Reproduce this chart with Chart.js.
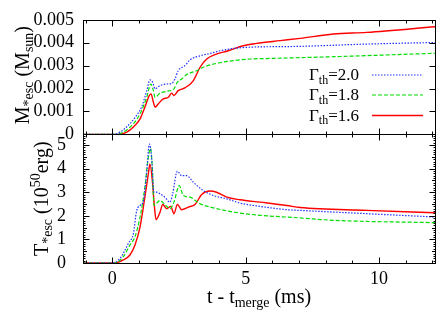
<!DOCTYPE html>
<html>
<head>
<meta charset="utf-8">
<script src="https://cdn.jsdelivr.net/npm/chart.js@4.4.0/dist/chart.umd.min.js"></script>
<style>
body { margin: 0; background: #fff; }
</style>
</head>
<body>
<canvas id="myChart" width="447" height="313"></canvas>
<script>
// legend labels (Gamma_th values)
var gammas = ["2.0", "1.8", "1.6"];

// x tick labels and y tick labels
var xTicks = [0, 5, 10];
var mTicks = [0, 0.001, 0.002, 0.003, 0.004, 0.005];
var tTicks = [0, 1, 2, 3, 4, 5];

// top panel: escaping mass (Msun)
var tM20 = [-1.1, 0, 0.29, 0.66, 0.91, 1.1, 1.29, 1.41, 1.51, 1.6, 1.79, 2.04, 2.22, 2.35, 2.47, 2.72, 2.91, 3.29, 3.66, 4.04, 4.54, 5.04, 7.0, 9.5, 12.1];
var m20 = [0, 0, 0.0001, 0.00047, 0.00083, 0.0012, 0.0019, 0.00238, 0.00228, 0.00199, 0.00213, 0.0022, 0.00222, 0.00242, 0.00278, 0.003, 0.00325, 0.00343, 0.00353, 0.00365, 0.00375, 0.0038, 0.00384, 0.00394, 0.00401];

var tM18 = [-1.1, 0.1, 0.41, 0.79, 1.04, 1.29, 1.44, 1.54, 1.6, 1.79, 2.04, 2.31, 2.44, 2.6, 2.79, 3.16, 3.41, 3.91, 4.54, 5.16, 5.79, 8.29, 12.1];
var m18 = [0, 0, 0.0001, 0.00047, 0.0009, 0.00162, 0.0022, 0.00191, 0.00162, 0.0018, 0.00188, 0.00199, 0.00228, 0.00242, 0.00261, 0.00278, 0.00293, 0.0031, 0.00322, 0.00329, 0.00331, 0.00339, 0.00354];

var tM16 = [-1.1, 0.2, 0.54, 0.79, 1.04, 1.22, 1.39, 1.45, 1.54, 1.6, 1.72, 1.91, 2.1, 2.22, 2.31, 2.47, 2.72, 3.04, 3.29, 3.54, 3.85, 4.35, 4.91, 5.41, 6.29, 7.04, 8.29, 9.54, 12.1];
var m16 = [0, 0, 0.0001, 0.00032, 0.00068, 0.00119, 0.0017, 0.00177, 0.0014, 0.00119, 0.00133, 0.00155, 0.00162, 0.0018, 0.0017, 0.00191, 0.00203, 0.00235, 0.00293, 0.00329, 0.00348, 0.00365, 0.00387, 0.00397, 0.00409, 0.00419, 0.00438, 0.00445, 0.0047];

// bottom panel: escaping kinetic energy (10^50 erg)
var tT20 = [-1.1, 0, 0.29, 0.41, 0.6, 0.79, 0.91, 1.04, 1.16, 1.29, 1.39, 1.47, 1.56, 1.66, 1.79, 1.97, 2.16, 2.26, 2.44, 2.6, 2.79, 3.04, 3.41, 3.79, 4.29, 4.79, 5.54, 6.54, 7.04, 9.54, 12.1];
var e20 = [0, 0, 0.2, 0.41, 0.83, 1.25, 2.2, 2.44, 2.6, 3.9, 5.04, 4.48, 3.0, 3.0, 2.93, 2.79, 2.58, 2.93, 3.89, 3.7, 3.7, 3.42, 3.07, 2.86, 2.72, 2.54, 2.4, 2.26, 2.23, 2.09, 1.95];

var tT18 = [-1.1, 0.1, 0.41, 0.66, 0.85, 1.04, 1.22, 1.35, 1.43, 1.5, 1.56, 1.79, 1.97, 2.16, 2.31, 2.51, 2.66, 2.91, 3.29, 3.79, 4.54, 5.54, 6.79, 8.29, 12.1];
var e18 = [0, 0, 0.27, 0.76, 1.11, 1.95, 3.21, 4.48, 4.85, 4.05, 2.44, 2.65, 2.48, 2.3, 2.58, 3.28, 2.86, 2.79, 2.51, 2.34, 2.16, 2.02, 1.93, 1.81, 1.71];

var tT16 = [-1.1, 0.1, 0.41, 0.66, 0.85, 1.04, 1.22, 1.35, 1.41, 1.5, 1.58, 1.64, 1.79, 1.89, 2.04, 2.19, 2.31, 2.44, 2.6, 2.85, 3.1, 3.35, 3.66, 3.91, 4.29, 4.79, 5.54, 6.54, 7.04, 9.54, 12.1];
var e16 = [0, 0, 0.13, 0.34, 0.76, 1.53, 2.79, 3.78, 4.2, 3.49, 2.37, 1.84, 2.16, 2.48, 2.3, 2.4, 2.09, 2.48, 2.26, 2.37, 2.48, 2.9, 3.05, 3.0, 2.79, 2.68, 2.58, 2.44, 2.35, 2.23, 2.13];

var colors = ["#2030ff", "#00dd00", "#ff0000"];
var dashes = [[1.5, 1.5], [4, 2], []];
var widths = [1.2, 1.2, 1.4];
var FONT = "'Liberation Serif', 'Times New Roman', 'DejaVu Serif', serif";

function pts(xs, ys) {
  var out = [];
  for (var i = 0; i < xs.length; i++) out.push({x: xs[i], y: ys[i]});
  return out;
}

function ds(i, xs, ys, axis) {
  return {
    label: gammas[i],
    data: pts(xs, ys),
    yAxisID: axis,
    borderColor: colors[i],
    borderWidth: widths[i],
    borderDash: dashes[i],
    pointRadius: 0,
    fill: false,
    cubicInterpolationMode: 'monotone'
  };
}

// text made of pieces: s=0 normal, s=1 subscript, s=-1 superscript
function richWidth(ctx, parts, big, small) {
  var w = 0;
  parts.forEach(function(p) {
    ctx.font = (p.s ? small : big) + "px " + FONT;
    w += ctx.measureText(p.t).width;
  });
  return w;
}
function richDraw(ctx, parts, x, y, big, small) {
  parts.forEach(function(p) {
    ctx.font = (p.s ? small : big) + "px " + FONT;
    var dy = p.s === 1 ? big * 0.22 : (p.s === -1 ? -big * 0.4 : 0);
    ctx.fillText(p.t, x, y + dy);
    x += ctx.measureText(p.t).width;
  });
}

function line(ctx, x1, y1, x2, y2) {
  ctx.beginPath();
  ctx.moveTo(x1, y1);
  ctx.lineTo(x2, y2);
  ctx.stroke();
}

var frame = {
  id: 'frame',
  afterDraw: function(chart) {
    var ctx = chart.ctx;
    var a = chart.chartArea;
    var xs = chart.scales.x;
    ctx.save();
    ctx.strokeStyle = '#000';
    ctx.lineWidth = 1;
    ctx.setLineDash([]);
    var tiny = [];
    for (var k = 1; k < 55; k++) if (k % 5) tiny.push(k / 10);
    var panels = [
      {s: chart.scales.yM, major: mTicks, minor: [], tiny: []},
      {s: chart.scales.yT, major: tTicks, minor: [0.5, 1.5, 2.5, 3.5, 4.5], tiny: tiny}
    ];
    panels.forEach(function(p) {
      var s = p.s;
      var top = Math.round(s.top) + 0.5, bot = Math.round(s.bottom) + 0.5;
      var l = Math.round(a.left) + 0.5, r = Math.round(a.right) + 0.5;
      ctx.strokeRect(l, top, r - l, bot - top);
      for (var t = -1; t <= 12; t++) {
        var len = (t % 5 === 0) ? 6 : 3;
        var px = Math.round(xs.getPixelForValue(t)) + 0.5;
        line(ctx, px, top, px, top + len);
        line(ctx, px, bot, px, bot - len);
      }
      [[p.major, 6], [p.minor, 3.5], [p.tiny, 2]].forEach(function(g) {
        g[0].forEach(function(v) {
          var py = Math.round(s.getPixelForValue(v)) + 0.5;
          line(ctx, l, py, l + g[1], py);
          line(ctx, r, py, r - g[1], py);
        });
      });
    });

    // axis titles
    ctx.fillStyle = '#000';
    ctx.textBaseline = 'alphabetic';
    ctx.textAlign = 'left';
    var mTitle = [{t: 'M', s: 0}, {t: '*esc', s: 1}, {t: ' (M', s: 0}, {t: 'sun', s: 1}, {t: ')', s: 0}];
    var eTitle = [{t: 'T', s: 0}, {t: '*esc', s: 1}, {t: ' (10', s: 0}, {t: '50', s: -1}, {t: 'erg)', s: 0}];
    var sM = chart.scales.yM, sT = chart.scales.yT;
    [[mTitle, 29, (sM.top + sM.bottom) / 2 - 2], [eTitle, 48, (sT.top + sT.bottom) / 2]].forEach(function(d) {
      ctx.save();
      ctx.translate(d[1], d[2]);
      ctx.rotate(-Math.PI / 2);
      var w = richWidth(ctx, d[0], 20, 14);
      richDraw(ctx, d[0], -w / 2, 0, 20, 14);
      ctx.restore();
    });
    var xTitle = [{t: 't - t', s: 0}, {t: 'merge', s: 1}, {t: ' (ms)', s: 0}];
    var wx = richWidth(ctx, xTitle, 20, 14);
    richDraw(ctx, xTitle, (a.left + a.right) / 2 - wx / 2, 303, 20, 14);

    // legend
    var rows = [75, 95, 115.5];
    for (var i = 0; i < gammas.length; i++) {
      var parts = [{t: '\u0393', s: 0}, {t: 'th', s: 1}, {t: '=' + gammas[i], s: 0}];
      var w = richWidth(ctx, parts, 17, 12);
      richDraw(ctx, parts, 359 - w, rows[i] + 5, 17, 12);
      ctx.strokeStyle = colors[i];
      ctx.lineWidth = widths[i];
      ctx.setLineDash(dashes[i]);
      line(ctx, 372, rows[i], 423, rows[i]);
    }
    ctx.restore();
  }
};

var tickFont = {family: FONT, size: 18};

var chart = new Chart(document.getElementById('myChart'), {
  type: 'line',
  data: {
    datasets: [
      ds(0, tM20, m20, 'yM'),
      ds(1, tM18, m18, 'yM'),
      ds(2, tM16, m16, 'yM'),
      ds(0, tT20, e20, 'yT'),
      ds(1, tT18, e18, 'yT'),
      ds(2, tT16, e16, 'yT')
    ]
  },
  options: {
    responsive: false,
    animation: false,
    devicePixelRatio: 1,
    layout: {padding: {top: 19, right: 12, left: 0, bottom: 0}},
    plugins: {legend: {display: false}, tooltip: {enabled: false}},
    scales: {
      x: {
        type: 'linear',
        min: -1.1,
        max: 12.1,
        grid: {display: false},
        border: {display: false},
        afterBuildTicks: function(s) { s.ticks = xTicks.map(function(v) { return {value: v}; }); },
        afterFit: function(s) { s.height = 50; },
        ticks: {font: tickFont, color: '#000', padding: -3, maxRotation: 0, autoSkip: false}
      },
      yT: {
        type: 'linear',
        position: 'left',
        stack: 'panels',
        stackWeight: 129,
        min: 0,
        max: 5.45,
        grid: {display: false},
        border: {display: false},
        afterBuildTicks: function(s) { s.ticks = tTicks.map(function(v) { return {value: v}; }); },
        afterFit: function(s) { s.width = 83; },
        ticks: {font: tickFont, color: '#000', padding: 9, autoSkip: false,
          callback: function(v) { return String(v); }}
      },
      yM: {
        type: 'linear',
        position: 'left',
        stack: 'panels',
        stackWeight: 115,
        min: 0,
        max: 0.005,
        grid: {display: false},
        border: {display: false},
        afterBuildTicks: function(s) { s.ticks = mTicks.map(function(v) { return {value: v}; }); },
        afterFit: function(s) { s.width = 83; },
        ticks: {font: tickFont, color: '#000', padding: 1, autoSkip: false,
          callback: function(v) { return v === 0 ? '0' : v.toFixed(3); }}
      }
    }
  },
  plugins: [frame]
});
</script>
</body>
</html>
